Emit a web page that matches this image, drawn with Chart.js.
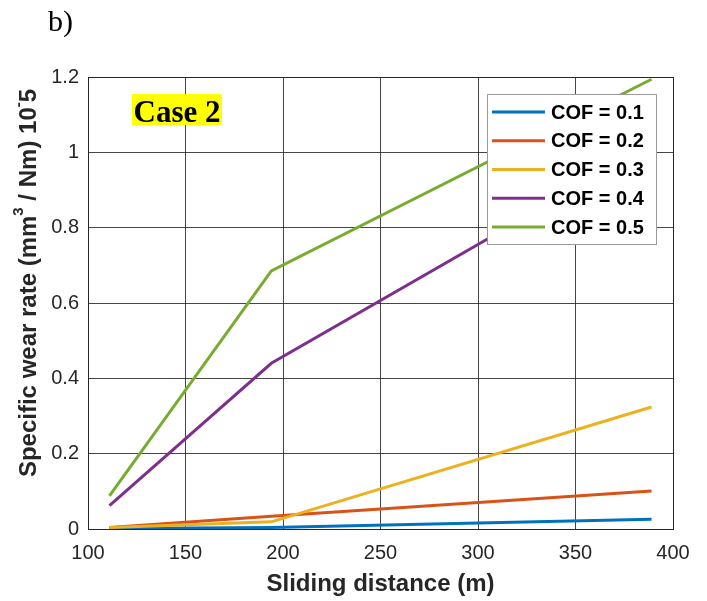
<!DOCTYPE html>
<html>
<head>
<meta charset="utf-8">
<script src="https://cdn.jsdelivr.net/npm/chart.js@4.4.1/dist/chart.umd.min.js"></script>
<style>
  html, body { margin: 0; padding: 0; background: #fff; }
  canvas { display: block; }
</style>
</head>
<body>
<canvas id="wearChart" width="707" height="601"></canvas>
<script>
// Sliding distance (m)
const distance = [111, 194, 389];

// Specific wear rate (mm3/Nm) x10^-5, one list per friction coefficient
const cof01 = [0.001, 0.004, 0.026];
const cof02 = [0.004, 0.034, 0.101];
const cof03 = [0.004, 0.019, 0.324];
const cof04 = [0.062, 0.440, 1.020];
const cof05 = [0.088, 0.685, 1.194];

const seriesLabels = ['COF = 0.1', 'COF = 0.2', 'COF = 0.3', 'COF = 0.4', 'COF = 0.5'];
const seriesColors = ['#0072BD', '#D95319', '#EDB120', '#7E2F8E', '#77AC30'];

const xTicks = [100, 150, 200, 250, 300, 350, 400];
const yTicks = [0, 0.2, 0.4, 0.6, 0.8, 1, 1.2];

const FONT = "'Liberation Sans', Arial, sans-serif";
const SERIF = "'Liberation Serif', 'Times New Roman', serif";
const AXIS_GREY = '#262626';

const allSeries = [cof01, cof02, cof03, cof04, cof05];

const datasets = allSeries.map((vals, i) => ({
    label: seriesLabels[i],
    data: vals.map((v, k) => ({ x: distance[k], y: v })),
    borderColor: seriesColors[i],
    backgroundColor: seriesColors[i],
    borderWidth: 3,
    pointRadius: 0,
    tension: 0,
    order: allSeries.length - i // later series drawn on top
}));

// box, labels and legend drawn on top of the plot
const decorPlugin = {
    id: 'decor',
    afterDatasetsDraw(chart) {
        const ctx = chart.ctx;
        const a = chart.chartArea;
        ctx.save();

        // axes box
        ctx.strokeStyle = AXIS_GREY;
        ctx.lineWidth = 1;
        ctx.strokeRect(Math.round(a.left) + 0.5, Math.round(a.top) + 0.5,
            Math.round(a.right - a.left), Math.round(a.bottom - a.top));

        // "Case 2" tag
        ctx.fillStyle = '#ffff00';
        ctx.fillRect(132, 94, 90, 31);
        ctx.fillStyle = '#000';
        ctx.font = 'bold 31px ' + SERIF;
        ctx.textAlign = 'center';
        ctx.textBaseline = 'alphabetic';
        ctx.fillText('Case 2', 177, 122);

        // panel letter
        ctx.font = '30px ' + SERIF;
        ctx.textAlign = 'left';
        ctx.fillText('b)', 48, 31);

        // legend
        ctx.fillStyle = '#fff';
        ctx.fillRect(487, 94, 169, 150);
        ctx.strokeStyle = '#9a9a9a';
        ctx.strokeRect(487.5, 94.5, 169, 150);
        ctx.font = 'bold 20px ' + FONT;
        ctx.textBaseline = 'middle';
        chart.data.datasets.forEach((ds, i) => {
            const y = 112 + i * 28.75;
            ctx.strokeStyle = ds.borderColor;
            ctx.lineWidth = 3;
            ctx.beginPath();
            ctx.moveTo(492, y);
            ctx.lineTo(545, y);
            ctx.stroke();
            ctx.fillStyle = '#000';
            ctx.fillText(ds.label, 551, y + 1);
        });

        // y axis title with superscripts
        const parts = [
            ['Specific wear rate (mm', false],
            ['3', true],
            [' / Nm) 10', false],
            ['-', true],
            ['5', false]
        ];
        const mainFont = 'bold 24px ' + FONT;
        const supFont = 'bold 15px ' + FONT;
        let total = 0;
        parts.forEach(p => {
            ctx.font = p[1] ? supFont : mainFont;
            total += ctx.measureText(p[0]).width;
        });
        ctx.translate(29, 283);
        ctx.rotate(-Math.PI / 2);
        ctx.fillStyle = AXIS_GREY;
        ctx.textAlign = 'left';
        ctx.textBaseline = 'middle';
        let x = -total / 2;
        parts.forEach(p => {
            ctx.font = p[1] ? supFont : mainFont;
            ctx.fillText(p[0], x, p[1] ? -10 : 0);
            x += ctx.measureText(p[0]).width;
        });

        ctx.restore();
    }
};

new Chart(document.getElementById('wearChart'), {
    type: 'line',
    data: { datasets: datasets },
    options: {
        responsive: false,
        animation: false,
        devicePixelRatio: 1,
        layout: { padding: { top: 77, right: 34, left: 0, bottom: 0 } },
        plugins: {
            legend: { display: false },
            tooltip: { enabled: false }
        },
        scales: {
            x: {
                type: 'linear',
                position: 'bottom',
                min: 100,
                max: 400,
                afterBuildTicks: (scale) => { scale.ticks = xTicks.map(v => ({ value: v })); },
                afterFit: (scale) => { scale.height = 72; },
                grid: { color: 'rgba(38,38,38,0.85)', drawTicks: false },
                border: { display: false },
                ticks: {
                    padding: 12,
                    color: AXIS_GREY,
                    font: { family: FONT, size: 20 },
                    maxRotation: 0
                },
                title: {
                    display: true,
                    text: 'Sliding distance (m)',
                    color: AXIS_GREY,
                    font: { family: FONT, size: 24, weight: 'bold' },
                    padding: { top: 0, bottom: 2 }
                }
            },
            y: {
                type: 'linear',
                min: 0,
                max: 1.2,
                afterBuildTicks: (scale) => { scale.ticks = yTicks.map(v => ({ value: v })); },
                afterFit: (scale) => { scale.width = 88; },
                grid: { color: 'rgba(38,38,38,0.85)', drawTicks: false },
                border: { display: false },
                ticks: {
                    padding: 9,
                    color: AXIS_GREY,
                    font: { family: FONT, size: 20 },
                    callback: (v) => String(v)
                }
            }
        }
    },
    plugins: [decorPlugin]
});
</script>
</body>
</html>
